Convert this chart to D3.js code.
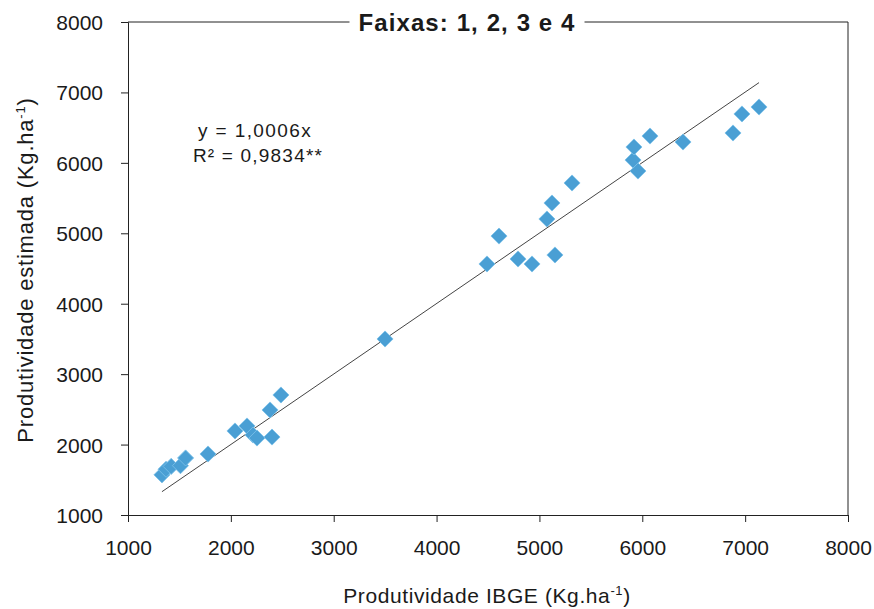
<!DOCTYPE html>
<html>
<head>
<meta charset="utf-8">
<script src="https://cdn.jsdelivr.net/npm/d3@7"></script>
<style>
  html, body { margin: 0; padding: 0; background: #fff; }
  svg { display: block; }
  text { font-family: "Liberation Sans", Arial, sans-serif; fill: #1a1a1a; }
</style>
</head>
<body>
<svg id="chart" width="874" height="609"></svg>
<script>
// Produtividade IBGE (x) vs. produtividade estimada (y), kg/ha
const ibge = [1330, 1370, 1420, 1510, 1560, 1778, 2040, 2157, 2215, 2254, 2400, 2381, 2487,
              3499, 4490, 4607, 4792, 4928, 5151, 5073, 5122, 5317, 5958, 5910, 5919, 6075,
              6396, 6882, 6969, 7135];
const estimada = [1570, 1650, 1690, 1700, 1810, 1866, 2193, 2264, 2136, 2093, 2107, 2491, 2704,
                  3499, 4564, 4961, 4635, 4564, 4692, 5203, 5430, 5714, 5884, 6040, 6225, 6381,
                  6296, 6424, 6694, 6793];
const xTicks = [1000, 2000, 3000, 4000, 5000, 6000, 7000, 8000];
const yTicks = [1000, 2000, 3000, 4000, 5000, 6000, 7000, 8000];
const slope = 1.0006;
const titleText = "Faixas: 1, 2, 3 e 4";
const eqText = ["y = 1,0006x", "R² = 0,9834**"];

const svg = d3.select("#chart");
const plotL = 128, plotR = 848, plotT = 22, plotB = 515;

const x = d3.scaleLinear().domain([1000, 8000]).range([plotL, plotR]);
const y = d3.scaleLinear().domain([1000, 8000]).range([plotB, plotT]);

const axisColor = "#222";

// Axes
const gx = svg.append("g").attr("transform", `translate(0,${plotB})`)
  .call(d3.axisBottom(x).tickValues(xTicks).tickFormat(d3.format("d")).tickSizeOuter(0).tickSize(7).tickPadding(18));
const gy = svg.append("g").attr("transform", `translate(${plotL},0)`)
  .call(d3.axisLeft(y).tickValues(yTicks).tickFormat(d3.format("d")).tickSizeOuter(0).tickSize(7).tickPadding(18));
[gx, gy].forEach(g => {
  g.select(".domain").attr("stroke", axisColor);
  g.selectAll(".tick line").attr("stroke", axisColor);
  g.selectAll(".tick text").attr("font-size", 21).attr("fill", "#1a1a1a")
    .style("font-family", "'Liberation Sans', Arial, sans-serif");
});
gy.selectAll(".tick text").attr("dy", "0.36em");

// Right and top border (top line broken around the title)
svg.append("line").attr("x1", plotR).attr("x2", plotR).attr("y1", plotT).attr("y2", plotB)
  .attr("stroke", axisColor);
const title = svg.append("text").attr("x", 467).attr("y", plotT).attr("dy", "0.36em")
  .attr("text-anchor", "middle").attr("font-size", 24).attr("font-weight", "bold")
  .attr("letter-spacing", 1.1).attr("fill", "#111").text(titleText);
const tb = title.node().getBBox();
svg.append("line").attr("x1", plotL).attr("x2", tb.x - 9).attr("y1", plotT).attr("y2", plotT).attr("stroke", axisColor);
svg.append("line").attr("x1", tb.x + tb.width + 9).attr("x2", plotR).attr("y1", plotT).attr("y2", plotT).attr("stroke", axisColor);

// Regression line y = 1,0006x over the range of observed values
const xMin = d3.min(ibge), xMax = d3.max(ibge);
svg.append("line")
  .attr("x1", x(xMin)).attr("y1", y(slope * xMin))
  .attr("x2", x(xMax)).attr("y2", y(slope * xMax))
  .attr("stroke", "#444").attr("stroke-width", 1);

// Points (diamonds)
const diamond = d3.symbol().type(d3.symbolSquare).size(130);
svg.append("g").selectAll("path").data(ibge.map((v, i) => [v, estimada[i]])).join("path")
  .attr("d", diamond)
  .attr("transform", d => `translate(${x(d[0])},${y(d[1])}) rotate(45)`)
  .attr("fill", "#4a9fd4")
  .attr("stroke", "#7cc0e8").attr("stroke-width", 0.8);

// Equation and R²
svg.append("text").attr("x", 255).attr("y", 137).attr("text-anchor", "middle")
  .attr("font-size", 19).attr("letter-spacing", 1.4).text(eqText[0]);
svg.append("text").attr("x", 258).attr("y", 162).attr("text-anchor", "middle")
  .attr("font-size", 19).attr("letter-spacing", 1.2).text(eqText[1]);

// Axis titles
const xl = svg.append("text").attr("x", 487).attr("y", 603).attr("text-anchor", "middle")
  .attr("font-size", 21).attr("letter-spacing", 0.6);
xl.append("tspan").text("Produtividade IBGE (Kg.ha");
xl.append("tspan").attr("font-size", 13).attr("dy", -8).text("-1");
xl.append("tspan").attr("dy", 8).text(")");

const yl = svg.append("text").attr("transform", "translate(33,270) rotate(-90)")
  .attr("text-anchor", "middle").attr("font-size", 22).attr("letter-spacing", 0.8);
yl.append("tspan").text("Produtividade estimada (Kg.ha");
yl.append("tspan").attr("font-size", 13).attr("dy", -8).text("-1");
yl.append("tspan").attr("dy", 8).text(")");
</script>
</body>
</html>
